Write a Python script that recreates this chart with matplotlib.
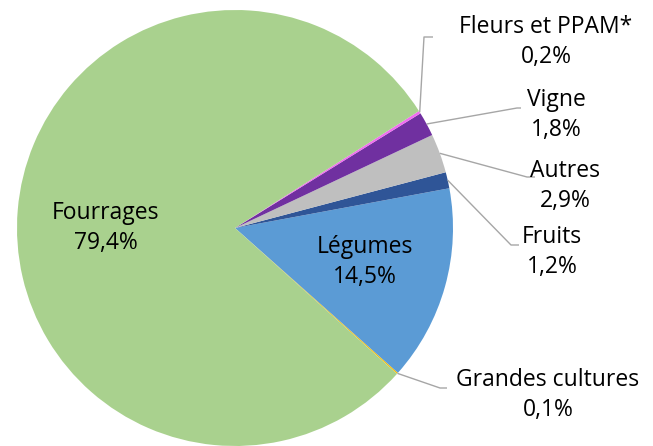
import matplotlib
matplotlib.use("Agg")
import matplotlib.pyplot as plt
import numpy as np

plt.rcParams['font.family'] = ['Open Sans', 'DejaVu Sans']

# Crop shares (%), in drawing order (counter-clockwise from the start angle)
categories = ["Grandes cultures", "Légumes", "Fruits", "Autres", "Vigne",
              "Fleurs et PPAM*", "Fourrages"]
shares = [0.1, 14.5, 1.2, 2.9, 1.8, 0.2, 79.4]
labels_pct = ["0,1%", "14,5%", "1,2%", "2,9%", "1,8%", "0,2%", "79,4%"]
colors = ["#ffc000", "#5b9bd5", "#2f5597", "#bfbfbf", "#7030a0",
          "#f06cf0", "#a9d18e"]

W, H = 653, 446
fig = plt.figure(figsize=(W / 100, H / 100), dpi=100)
ax = fig.add_axes([0, 0, 1, 1])

cx, cy, r = 235, H - 228, 218
start = -42
wedges, _ = ax.pie(shares, colors=colors, startangle=start, counterclock=True,
                   center=(cx, cy), radius=r, frame=True,
                   wedgeprops=dict(linewidth=0))
ax.set_xlim(0, W)
ax.set_ylim(0, H)
ax.axis("off")

fs = 16.5
ls = 1.3
# Labels inside the large slices
inside = {"Légumes": (365, 262), "Fourrages": (106, 228)}
# Outside labels: text centre, leader elbow, leader end (image pixel coords)
outside = {
    "Fleurs et PPAM*": ((546, 42), (424, 37), (433, 37)),
    "Vigne": ((556, 115), (517, 108), (521, 108)),
    "Autres": ((565, 186), (527, 177), (535, 177)),
    "Fruits": ((552, 252), (511, 245), (519, 245)),
    "Grandes cultures": ((548, 395), (440, 388), (447, 388)),
}

for w, name, pct in zip(wedges, categories, labels_pct):
    mid = np.deg2rad((w.theta1 + w.theta2) / 2)
    if name in inside:
        x, y = inside[name]
        ax.text(x, H - y, f"{name}\n{pct}", ha="center", va="center",
                fontsize=fs, linespacing=ls, color="#000000")
    else:
        (tx, ty), (ex, ey), (lx, ly) = outside[name]
        px, py = cx + r * np.cos(mid), cy + r * np.sin(mid)
        ax.plot([px, ex, lx], [py, H - ey, H - ly], color="#a6a6a6", lw=1,
                solid_capstyle="butt")
        ax.text(tx, H - ty, f"{name}\n{pct}", ha="center", va="center",
                fontsize=fs, linespacing=ls, color="#000000")

fig.savefig("out.png", dpi=100)
